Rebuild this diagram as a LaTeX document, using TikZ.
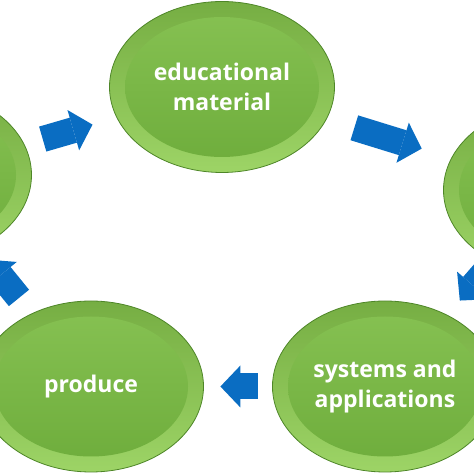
\documentclass[tikz,border=0pt]{standalone}
\usepackage{fontspec}
\setmainfont{Open Sans}
\usepackage{tikz}
\usetikzlibrary{shapes.geometric}
\usetikzlibrary{arrows.meta}
\definecolor{rimtop}{HTML}{76AE43}
\definecolor{rimbot}{HTML}{9DD466}
\definecolor{facetop}{HTML}{87C253}
\definecolor{facebot}{HTML}{6DAC3B}
\definecolor{rimline}{HTML}{4E8628}
\definecolor{flowblue}{HTML}{0A6DC2}
\tikzset{
   bubble/.style={ellipse, minimum width=225pt, minimum height=171pt, inner sep=0pt,
      draw=rimline, line width=0.8pt, top color=rimtop, bottom color=rimbot,
      text=white, align=center, font=\fontsize{23pt}{30pt}\selectfont\bfseries,
      path picture={\shade[top color=facetop, bottom color=facebot]
         (path picture bounding box.center) ellipse [x radius=97pt, y radius=70pt];}},
   flow/.style={draw=flowblue, line width=26pt,
      -{Triangle[length=20pt, width=42pt, line width=0pt]}},
    }
\begin{document}
\begin{tikzpicture}[x=1pt, y=1pt]
        \useasboundingbox (0,0) rectangle (474,474);
        \clip (0,0) rectangle (474,474);
        \node[bubble] (m1) at (222,387) {educational\\material};
        \node[bubble] (m2) at (556,284) {};
        \node[bubble] (m3) at (385,87.5) {systems and\\applications};
        \node[bubble] (m4) at (91,87.5) {produce};
        \node[bubble] (m5) at (-81,299) {};
        \draw[flow, shorten <=19pt, shorten >=25pt] (m5) -- (m1);
        \draw[flow, shorten <=29pt, shorten >=31pt] (m1) -- (m2);
        \draw[flow, shorten <=5pt, shorten >=19pt] (m2) -- (m3);
        \draw[flow, shorten <=14.5pt, shorten >=16.5pt] (m3) -- (m4);
        \draw[flow, shorten <=20pt, shorten >=15pt] (m4) -- (m5);
    \end{tikzpicture}
\end{document}
